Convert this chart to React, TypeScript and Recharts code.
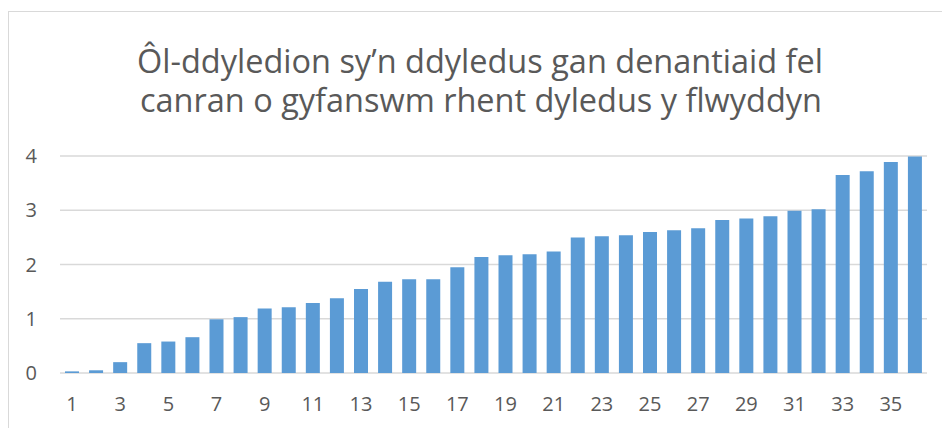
import { Bar, BarChart, CartesianGrid, XAxis, YAxis } from "recharts";

// one bar per landlord, ranked low to high
const categories = Array.from({ length: 36 }, (_, i) => String(i + 1));

const arrearsPct = [
  0.03, 0.05, 0.2, 0.55, 0.58, 0.66, 0.99, 1.03, 1.19, 1.21, 1.29, 1.38,
  1.55, 1.68, 1.73, 1.73, 1.95, 2.14, 2.17, 2.19, 2.24, 2.5, 2.52, 2.54,
  2.6, 2.63, 2.67, 2.82, 2.85, 2.89, 2.99, 3.02, 3.65, 3.72, 3.89, 3.99,
];

const yTicks = [0, 1, 2, 3, 4];

const titleLines = [
  "Ôl-ddyledion sy’n ddyledus gan denantiaid fel",
  "canran o gyfanswm rhent dyledus y flwyddyn",
];

const data = categories.map((name, i) => ({ name, value: arrearsPct[i] }));

const GREY = "#595959";
const FONT = "'Open Sans', sans-serif";

export default function App() {
  return (
    <div
      style={{
        position: "absolute",
        left: 0,
        top: 0,
        width: 942,
        height: 428,
        background: "#fff",
        overflow: "hidden",
        fontFamily: FONT,
      }}
    >
      {/* chart frame (cropped on the right and bottom) */}
      <div
        style={{
          position: "absolute",
          left: 8,
          top: 11,
          width: 960,
          height: 440,
          borderLeft: "1px solid #d9d9d9",
          borderTop: "1px solid #d9d9d9",
        }}
      />

      <svg
        width={942}
        height={130}
        style={{ position: "absolute", left: 0, top: 0 }}
      >
        <text
          x={480}
          y={73}
          textAnchor="middle"
          fontSize={33}
          fill={GREY}
          fontFamily={FONT}
          textLength={686}
          lengthAdjust="spacingAndGlyphs"
        >
          {titleLines[0]}
        </text>
        <text
          x={481}
          y={112}
          textAnchor="middle"
          fontSize={33}
          fill={GREY}
          fontFamily={FONT}
          textLength={682}
          lengthAdjust="spacingAndGlyphs"
        >
          {titleLines[1]}
        </text>
      </svg>

      <div style={{ position: "absolute", left: 0, top: 0 }}>
        <BarChart
          width={942}
          height={428}
          data={data}
          margin={{ top: 156, right: 15, left: 0, bottom: 25 }}
        >
          <CartesianGrid vertical={false} stroke="#d9d9d9" strokeWidth={1.5} />
          <XAxis
            dataKey="name"
            interval={1}
            height={30}
            axisLine={false}
            tickLine={false}
            tickMargin={18}
            tick={{ fontSize: 20, fill: GREY, fontFamily: FONT }}
          />
          <YAxis
            domain={[0, 4]}
            ticks={yTicks}
            width={60}
            axisLine={false}
            tickLine={false}
            tickMargin={17}
            tick={{ fontSize: 20, fill: GREY, fontFamily: FONT }}
          />
          <Bar
            dataKey="value"
            fill="#5b9bd5"
            barSize={14}
            isAnimationActive={false}
          />
        </BarChart>
      </div>
    </div>
  );
}
